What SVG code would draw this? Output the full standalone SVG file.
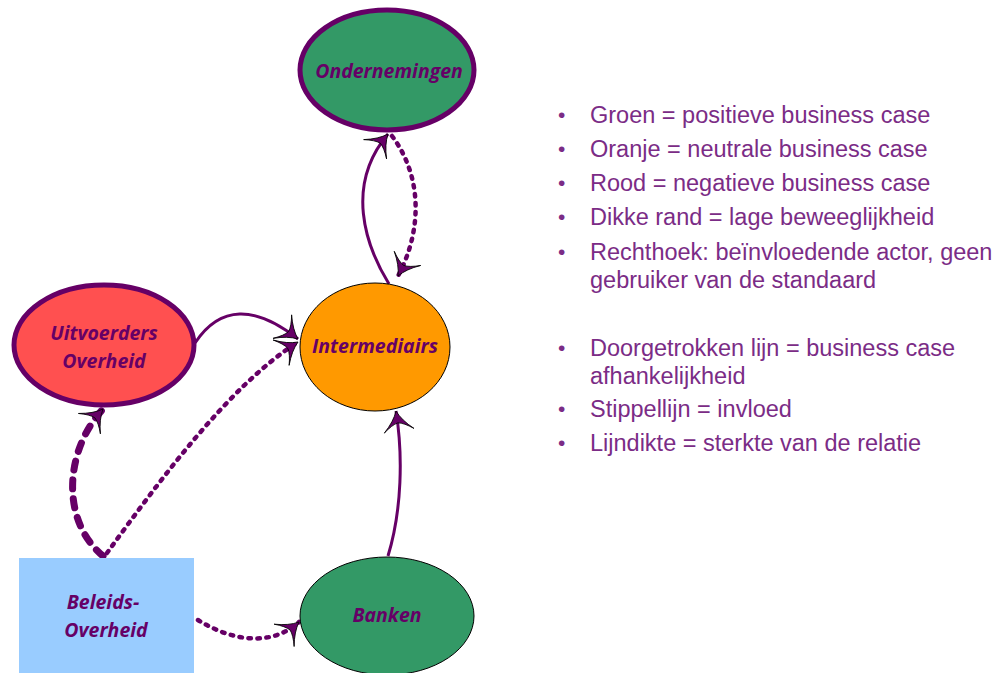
<svg xmlns="http://www.w3.org/2000/svg" width="1007" height="673" viewBox="0 0 1007 673">
  <defs>
    <style>
      .label { font-family: "Open Sans", "Noto Sans", sans-serif; font-weight: bold; font-style: italic; font-size: 19.5px; fill: #660066; text-anchor: middle; }
      .legend { font-family: "Liberation Sans", Arial, sans-serif; font-size: 23.5px; fill: #7b2c86; }
      .bullet { font-size: 21px; }
      .thick { stroke: #660066; stroke-width: 5; }
      .thin { stroke: #000000; stroke-width: 1; }
      .link { fill: none; stroke: #660066; }
      .solid { stroke-width: 3; }
      .dotted { stroke-width: 4.5; stroke-dasharray: 2.5 6.5; stroke-linecap: round; }
      .dashed { stroke-width: 7; stroke-dasharray: 9 10; stroke-linecap: round; }
    </style>
    <marker id="stealth" markerUnits="userSpaceOnUse" markerWidth="30" markerHeight="36" viewBox="-25 -18 30 36" refX="0" refY="0" orient="auto">
      <path d="M0,0 Q-10,-4 -20,-15 Q-13,-6 -12,0 Q-13,6 -20,15 Q-10,4 0,0 Z" fill="#660066" stroke="#000" stroke-width="0.8"/>
    </marker>
  </defs>

  <rect width="1007" height="673" fill="#ffffff"/>

  <!-- connectors -->
  <g id="connectors">
    <path class="link solid" d="M389,284 C365,245 345,185 388,134" marker-end="url(#stealth)"/>
    <path class="link dotted" d="M392,136 C425,180 420,235 398,276" marker-end="url(#stealth)"/>
    <path class="link solid" d="M195,343 C220,305 255,305 298,339" marker-end="url(#stealth)"/>
    <path class="link dotted" d="M107,553 C160,480 230,385 298,342" marker-end="url(#stealth)"/>
    <path class="link dashed" d="M103,556 C60,520 65,450 103,409" marker-end="url(#stealth)"/>
    <path class="link dotted" d="M198,620 C230,640 270,648 299,622" marker-end="url(#stealth)"/>
    <path class="link solid" d="M388,556 C402,510 403,455 396,411" marker-end="url(#stealth)"/>
  </g>

  <!-- nodes -->
  <g id="node-ondernemingen">
    <ellipse cx="387" cy="70" rx="87" ry="60" fill="#339966" class="thick"/>
    <text class="label" x="389" y="78">Ondernemingen</text>
  </g>
  <g id="node-intermediairs">
    <ellipse cx="375" cy="347" rx="75" ry="64" fill="#ff9900" class="thin"/>
    <text class="label" x="375" y="353">Intermediairs</text>
  </g>
  <g id="node-uitvoerders">
    <ellipse cx="104" cy="345" rx="90" ry="60" fill="#ff5050" class="thick"/>
    <text class="label" x="104" y="340">Uitvoerders</text>
    <text class="label" x="104" y="368">Overheid</text>
  </g>
  <g id="node-banken">
    <ellipse cx="387" cy="616" rx="87" ry="59" fill="#339966" class="thin"/>
    <text class="label" x="387" y="622">Banken</text>
  </g>
  <g id="node-beleids">
    <rect x="19" y="558" width="175" height="115" fill="#99ccff"/>
    <text class="label" x="103" y="609">Beleids-</text>
    <text class="label" x="106" y="637">Overheid</text>
  </g>

  <!-- legend -->
  <g id="legend" class="legend">
    <text class="bullet" x="558" y="122">•</text><text x="590" y="123">Groen = positieve business case</text>
    <text class="bullet" x="558" y="156">•</text><text x="590" y="157">Oranje = neutrale business case</text>
    <text class="bullet" x="558" y="190">•</text><text x="590" y="191">Rood = negatieve business case</text>
    <text class="bullet" x="558" y="224">•</text><text x="590" y="225">Dikke rand = lage beweeglijkheid</text>
    <text class="bullet" x="558" y="259">•</text><text x="590" y="260">Rechthoek: beïnvloedende actor, geen</text>
    <text x="590" y="288">gebruiker van de standaard</text>
    <text class="bullet" x="558" y="355">•</text><text x="590" y="356">Doorgetrokken lijn = business case</text>
    <text x="590" y="384">afhankelijkheid</text>
    <text class="bullet" x="558" y="416">•</text><text x="590" y="417">Stippellijn = invloed</text>
    <text class="bullet" x="558" y="450">•</text><text x="590" y="451">Lijndikte = sterkte van de relatie</text>
  </g>
</svg>
